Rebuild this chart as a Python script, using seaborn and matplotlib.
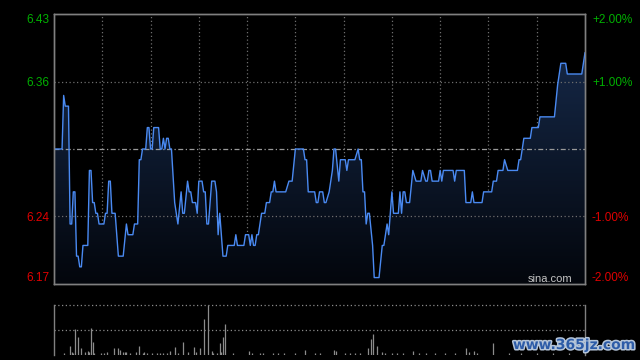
import numpy as np
import pandas as pd
import seaborn as sns
import matplotlib
matplotlib.use("Agg")
import matplotlib.pyplot as plt
import matplotlib.patheffects as pe
from matplotlib.colors import LinearSegmentedColormap

prev_close = 6.30
# intraday minute price, read as flat runs (start minute, end minute, price)
run_start = [0, 6, 7, 10, 12, 14, 16, 18, 22, 24, 26, 28, 32, 34, 36, 40, 45, 46, 50, 53,
             55, 58, 60, 62, 66, 68, 69, 70, 72, 75, 77, 79, 80, 83, 84, 86, 89, 90, 93, 95,
             97, 98, 101, 102, 103, 105, 108, 113, 114, 119, 122, 123, 124, 126, 128, 129, 132, 135, 137, 138,
             146, 150, 156, 158, 163, 165, 168, 171, 173, 174, 177, 178, 182, 183, 189, 190, 192, 194, 195, 198,
             199, 204, 207, 208, 210, 211, 215, 216, 217, 219, 223, 225, 229, 231, 233, 235, 240, 241, 242, 249,
             250, 256, 260, 261, 267, 273, 276, 280, 282, 289, 292, 297, 302, 313, 315, 319, 330]
run_end = [5, 6, 9, 11, 13, 15, 17, 21, 23, 25, 27, 31, 33, 35, 38, 43, 45, 49, 52, 54,
           57, 59, 61, 65, 67, 68, 69, 71, 73, 75, 77, 79, 81, 83, 85, 88, 89, 92, 94, 96,
           97, 100, 101, 102, 103, 107, 112, 113, 118, 121, 122, 123, 125, 127, 128, 131, 134, 136, 137, 144,
           148, 155, 157, 162, 164, 167, 169, 171, 173, 175, 177, 181, 182, 187, 189, 191, 193, 194, 196, 198,
           202, 205, 207, 208, 210, 214, 215, 216, 218, 221, 223, 228, 229, 232, 234, 239, 240, 241, 248, 249,
           255, 259, 260, 266, 272, 275, 279, 280, 288, 290, 296, 301, 311, 313, 318, 328, 330]
run_price = [6.30, 6.35, 6.34, 6.23, 6.26, 6.20, 6.19, 6.21, 6.28, 6.25, 6.24, 6.23, 6.24, 6.27, 6.24, 6.20, 6.23, 6.22, 6.23, 6.29,
             6.30, 6.32, 6.30, 6.32, 6.30, 6.31, 6.30, 6.31, 6.30, 6.25, 6.23, 6.26, 6.24, 6.27, 6.26, 6.25, 6.24, 6.27, 6.26, 6.23,
             6.25, 6.27, 6.26, 6.22, 6.24, 6.20, 6.21, 6.22, 6.21, 6.22, 6.21, 6.22, 6.21, 6.22, 6.23, 6.24, 6.25, 6.26, 6.27, 6.26,
             6.27, 6.30, 6.29, 6.26, 6.25, 6.26, 6.25, 6.26, 6.28, 6.30, 6.27, 6.29, 6.28, 6.29, 6.30, 6.29, 6.26, 6.23, 6.24, 6.21,
             6.18, 6.21, 6.23, 6.22, 6.26, 6.24, 6.26, 6.24, 6.26, 6.25, 6.28, 6.27, 6.28, 6.27, 6.28, 6.27, 6.28, 6.27, 6.28, 6.27,
             6.28, 6.25, 6.26, 6.25, 6.26, 6.27, 6.28, 6.29, 6.28, 6.29, 6.31, 6.32, 6.33, 6.36, 6.38, 6.37, 6.39]

vol_minute = [6, 10, 11, 12, 13, 15, 17, 19, 21, 22, 23, 24, 25, 29, 31, 33, 37, 40, 41, 43,
              44, 45, 47, 51, 53, 55, 56, 58, 61, 64, 66, 68, 70, 72, 75, 77, 80, 83, 87, 88,
              91, 93, 96, 98, 99, 101, 103, 104, 105, 106, 111, 121, 123, 128, 130, 136, 139, 143, 150, 156,
              162, 165, 174, 175, 181, 184, 187, 190, 195, 197, 198, 201, 204, 206, 210, 213, 217, 223, 227, 231,
              237, 243, 249, 256, 258, 261, 263, 273, 283, 290, 300, 310, 320]
vol_value = [17, 93, 33, 17, 250, 177, 67, 27, 43, 27, 267, 127, 17, 23, 17, 27, 67, 67, 50, 33,
             27, 33, 17, 33, 93, 20, 27, 17, 17, 17, 17, 17, 17, 37, 83, 17, 127, 27, 77, 27,
             67, 353, 490, 37, 17, 17, 117, 27, 177, 303, 17, 43, 17, 17, 17, 17, 23, 23, 23, 53,
             17, 17, 53, 37, 17, 17, 17, 17, 67, 153, 203, 93, 33, 23, 17, 17, 17, 37, 23, 17,
             17, 17, 17, 70, 33, 37, 23, 117, 17, 17, 17, 17, 17]

pct_ticks = [-2, -1, 1, 2]

minute, price = [], []
for s, e, p in zip(run_start, run_end, run_price):
    minute.append(s)
    price.append(p)
    if e != s:
        minute.append(e)
        price.append(p)
df = pd.DataFrame({"minute": minute, "price": price})

sns.set_theme(style="dark", rc={"axes.facecolor": "black", "figure.facecolor": "black",
                                "axes.edgecolor": "#808080", "axes.linewidth": 1.0})
plt.rcParams["font.family"] = ["Liberation Sans", "DejaVu Sans"]

green, red, grid_c = "#00b000", "#e00000", "#6e6e6e"
lo, hi = prev_close * 0.98, prev_close * 1.02

fig = plt.figure(figsize=(6.4, 3.6), dpi=100, facecolor="black")
ax = fig.add_axes([54 / 640, 1 - 284 / 360, 531 / 640, 270 / 360])
axv = fig.add_axes([54 / 640, 1 - 355 / 360, 531 / 640, 50 / 360])

# gradient area under the price line
cmap = LinearSegmentedColormap.from_list("fill", ["#03060c", "#182d50"])
grad = np.linspace(1, 0, 256).reshape(-1, 1)
im = ax.imshow(grad, aspect="auto", extent=(0, 330, lo, hi), cmap=cmap,
               origin="upper", zorder=1, interpolation="bilinear")
poly = ax.fill_between(df["minute"], df["price"], lo, facecolor="none", edgecolor="none")
im.set_clip_path(poly.get_paths()[0], transform=ax.transData)

sns.lineplot(data=df, x="minute", y="price", ax=ax, color="#4a8af2", lw=1.0, zorder=3)

ax.set_xlim(0, 330)
ax.set_ylim(lo, hi)
ax.set_xlabel("")
ax.set_ylabel("")
ax.set_xticks(range(30, 330, 30))
ax.tick_params(axis="x", length=0, labelbottom=False)
ax.grid(axis="x", ls=(0, (1, 2)), color=grid_c, lw=0.9)
ax.grid(axis="y", visible=False)
for k in (-1, 1):
    ax.axhline(prev_close * (1 + k / 100), ls=(0, (1, 2)), color=grid_c, lw=0.9, zorder=2)
ax.axhline(prev_close, ls=(0, (4, 2, 1, 2)), color="#9a9a9a", lw=0.9, zorder=2)

ax.set_yticks([prev_close * (1 + k / 100) for k in pct_ticks])
ax.set_yticklabels(["%.2f" % (prev_close * (1 + k / 100)) for k in pct_ticks])
ax.tick_params(axis="y", length=0, pad=3, labelsize=8.5)

axr = ax.twinx()
axr.set_ylim(-2, 2)
axr.set_yticks(pct_ticks)
axr.set_yticklabels(["%+.2f%%" % k for k in pct_ticks])
axr.tick_params(axis="y", length=0, pad=5, labelsize=8.5)
axr.grid(False)

for a in (ax, axr):
    labs = a.get_yticklabels()
    for lab, k in zip(labs, pct_ticks):
        lab.set_color(green if k > 0 else red)
        if k == 2:
            lab.set_va("top")
        elif k == -2:
            lab.set_va("bottom")
    for sp in a.spines.values():
        sp.set_color("#808080")

ax.text(0.977, 0.02, "sina.com", transform=ax.transAxes, ha="right", va="center",
        color="#c4c4c4", fontsize=8, zorder=5)

# volume panel
axv.vlines(vol_minute, 0, vol_value, color="#8c8c8c", lw=0.9)
vmax = max(vol_value)
axv.set_xlim(0, 330)
axv.set_ylim(0, vmax)
axv.axhline(vmax, ls=(0, (1, 2)), color="#8a8a8a", lw=0.9, clip_on=False)
axv.axhline(vmax / 2, ls=(0, (1, 2)), color="#8a8a8a", lw=0.9)
axv.set_xticks([])
axv.set_yticks([])
axv.grid(False)
axv.spines["top"].set_visible(False)
axv.spines["bottom"].set_visible(False)
for s in ("left", "right"):
    axv.spines[s].set_color("#808080")

fig.text(574 / 640, 1 - 345 / 360, "www.365jz.com", ha="center", va="center",
         color="#2d5ca8", fontsize=10, fontweight="bold", family="DejaVu Sans",
         path_effects=[pe.withStroke(linewidth=2.2, foreground="#b4c4d8")])

fig.savefig("out.png", dpi=100, facecolor="black")
